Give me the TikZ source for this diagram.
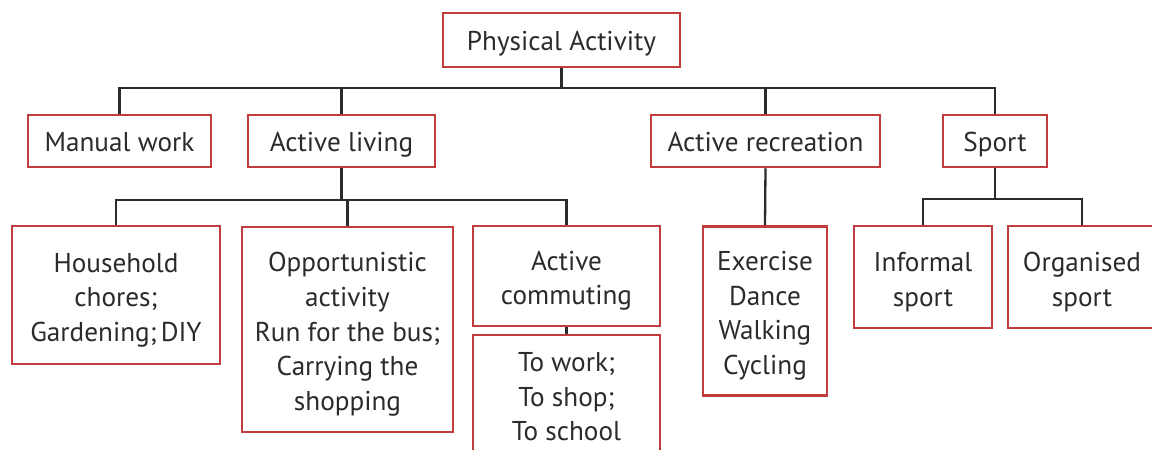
\documentclass[tikz,border=0pt]{standalone}
\usepackage{fontspec}
\setmainfont{PT Sans}
\usetikzlibrary{calc}
\definecolor{boxred}{HTML}{C23B3D}
\definecolor{inkgray}{HTML}{2B2B2B}
\newcommand\boxstrut{\rule[-4pt]{0pt}{18pt}}
\newcommand\topstrut{\rule{0pt}{14.5pt}}
\tikzset{
	box/.style={draw=boxred, line width=1.25pt, fill=white, text=inkgray, align=center,
		inner sep=0pt, font=\fontsize{13.6}{17.3}\selectfont},
	link/.style={draw=inkgray, line width=1.15pt},
}

\begin{document}
\begin{tikzpicture}[x=0.5pt,y=-0.5pt]
	\useasboundingbox (0,0) rectangle (1152,450);

	% Top level
	\node[box, minimum width=118.5pt, minimum height=27pt] (phys) at (561.5,40) {\boxstrut Physical Activity};

	% Second level
	\node[box, minimum width=91.5pt, minimum height=26pt] (manual) at (119.5,141) {\boxstrut Manual work};
	\node[box, minimum width=93.5pt, minimum height=26pt] (living) at (341.5,141) {\boxstrut Active living};
	\node[box, minimum width=114.5pt, minimum height=26pt] (recr) at (765.5,141) {\boxstrut Active recreation};
	\node[box, minimum width=52pt, minimum height=26pt] (sport) at (995,141) {\boxstrut Sport};

	% Third level
	\node[box, minimum width=104pt, minimum height=69pt] (house) at (116,295) {\topstrut Household\\chores;\\Gardening;\kern2pt DIY};
	\node[box, minimum width=105.5pt, minimum height=102.5pt] (opport) at (347.5,329.5) {\topstrut Opportunistic\\activity\\Run for the bus;\\Carrying the\\shopping};
	\node[box, minimum width=93.5pt, minimum height=50pt] (commut) at (566.5,276) {\topstrut Active\\commuting};
	\node[box, minimum width=93.5pt, minimum height=62pt] (towork) at (566.5,397) {To work;\\To shop;\\To school};
	\node[box, minimum width=62pt, minimum height=84.5pt] (exer) at (765,311) {\topstrut Exercise\\Dance\\Walking\\Cycling};
	\node[box, minimum width=69pt, minimum height=51pt] (inform) at (923,277) {\topstrut Informal\\sport};
	\node[box, minimum width=74pt, minimum height=51pt] (organ) at (1082,277) {\topstrut Organised\\sport};

	% Bus lines
	\coordinate (bus1) at (0,88);
	\coordinate (bus2) at (0,200);
	\coordinate (bus3) at (0,199);

	% Connectors
	\foreach \n in {manual,living,recr,sport}
		\draw[link] (phys.south) -- (phys.south |- bus1) -| (\n.north);
	\foreach \n in {house,opport,commut}
		\draw[link] (living.south) -- (living.south |- bus2) -| (\n.north);
	\foreach \n in {inform,organ}
		\draw[link] (sport.south) -- (sport.south |- bus3) -| (\n.north);
	\draw[link] (recr.south) -- (exer.north);
	\draw[link] (commut.south) -- (towork.north);
\end{tikzpicture}
\end{document}
